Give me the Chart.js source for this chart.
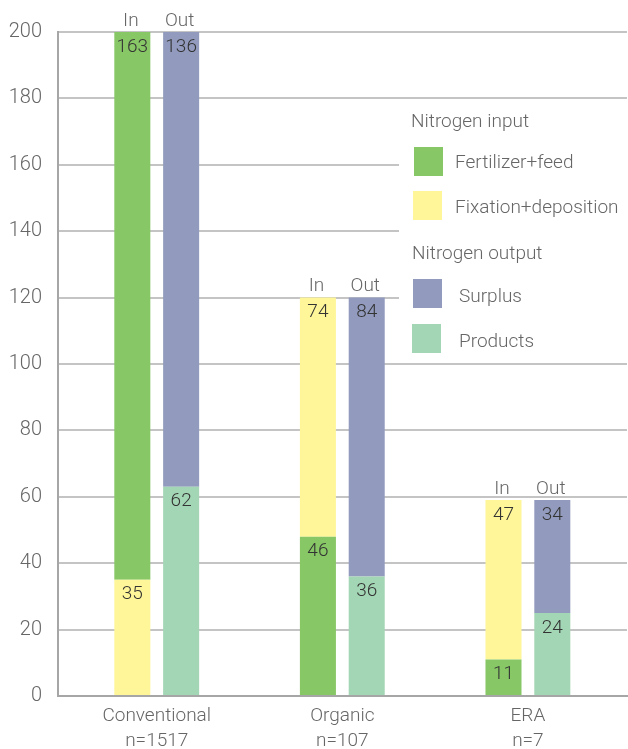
<!DOCTYPE html>
<html>
<head>
<meta charset="utf-8">
<title>Nitrogen input and output</title>
<script src="https://cdn.jsdelivr.net/npm/chart.js@4.4.1/dist/chart.umd.min.js"></script>
<style>
    body { margin: 0; background: #fff; }
    canvas { display: block; }
</style>
</head>
<body>
<canvas id="GraficoNitrogenio" width="628" height="749"></canvas>
<script>
/* Data */
var systems = ['Conventional', 'Organic', 'ERA'];
var sampleSizes = ['n=1517', 'n=107', 'n=7'];

// bar heights as drawn
var fertilizerFeed = [165, 48, 11];
var fixationDeposition = [35, 72, 48];
var surplus = [137, 84, 34];
var products = [63, 36, 25];

// numbers printed on the bars
var fertilizerFeedLabels = [163, 46, 11];
var fixationDepositionLabels = [35, 74, 47];
var surplusLabels = [136, 84, 34];
var productsLabels = [62, 36, 24];

// conventional farms: fertilizer segment sits above fixation
var fertilizerOnTop = [true, false, false];

var green = '#87c766';
var yellow = '#fff699';
var blueGrey = '#929bbd';
var mint = '#a3d6b4';
var textGrey = '#666666';
var fontFamily = 'Roboto, "Liberation Sans", sans-serif';

function Pontos(valores, manter) {
    return valores.map(function (v, i) {
        return { x: i, y: manter(i) ? v : null };
    });
}

/* Labels on the bars + In/Out above each stack */
var rotulosBarras = {
    id: 'rotulosBarras',
    afterDatasetsDraw: function (chart) {
        var ctx = chart.ctx;
        var topos = {};
        ctx.save();
        ctx.font = '300 19px ' + fontFamily;
        ctx.textAlign = 'center';
        ctx.textBaseline = 'alphabetic';
        chart.data.datasets.forEach(function (ds, d) {
            var meta = chart.getDatasetMeta(d);
            meta.data.forEach(function (bar, j) {
                if (ds.data[j].y == null) return;
                ctx.fillStyle = '#333333';
                ctx.fillText(ds.printed[j], bar.x, bar.y + 19.5);
                var chave = ds.stack + j;
                if (!topos[chave] || bar.y < topos[chave].y) {
                    topos[chave] = { x: bar.x, y: bar.y, nome: ds.stack };
                }
            });
        });
        ctx.fillStyle = textGrey;
        Object.keys(topos).forEach(function (k) {
            var t = topos[k];
            ctx.fillText(t.nome, t.x - 1.5, t.y - 6.5);
        });
        ctx.restore();
    }
};

/* Legend box drawn over the grid */
var legendaNitrogenio = {
    id: 'legendaNitrogenio',
    afterDraw: function (chart) {
        var ctx = chart.ctx;
        ctx.save();
        ctx.fillStyle = '#ffffff';
        ctx.fillRect(399, 104, 229, 255);
        ctx.font = '300 19px ' + fontFamily;
        ctx.textAlign = 'left';
        ctx.textBaseline = 'alphabetic';
        ctx.fillStyle = textGrey;
        ctx.fillText('Nitrogen input', 411, 127);
        ctx.fillText('Nitrogen output', 412, 259);

        var itens = [
            { cor: green, x: 414, y: 147, texto: 'Fertilizer+feed', tx: 455, ty: 167.5 },
            { cor: yellow, x: 413, y: 191, texto: 'Fixation+deposition', tx: 455, ty: 213 },
            { cor: blueGrey, x: 413, y: 279, texto: 'Surplus', tx: 459, ty: 302 },
            { cor: mint, x: 412, y: 324, texto: 'Products', tx: 459, ty: 347 }
        ];
        itens.forEach(function (it) {
            ctx.fillStyle = it.cor;
            ctx.fillRect(it.x, it.y, 29, 29);
            ctx.fillStyle = textGrey;
            ctx.fillText(it.texto, it.tx, it.ty);
        });
        ctx.restore();
    }
};

var ctx = document.getElementById('GraficoNitrogenio').getContext('2d');

var grafico = new Chart(ctx, {
    type: 'bar',
    data: {
        datasets: [{
            label: 'Fertilizer+feed',
            stack: 'In',
            data: Pontos(fertilizerFeed, function (i) { return !fertilizerOnTop[i]; }),
            printed: fertilizerFeedLabels,
            backgroundColor: green
        }, {
            label: 'Fixation+deposition',
            stack: 'In',
            data: Pontos(fixationDeposition, function () { return true; }),
            printed: fixationDepositionLabels,
            backgroundColor: yellow
        }, {
            label: 'Fertilizer+feed',
            stack: 'In',
            data: Pontos(fertilizerFeed, function (i) { return fertilizerOnTop[i]; }),
            printed: fertilizerFeedLabels,
            backgroundColor: green
        }, {
            label: 'Products',
            stack: 'Out',
            data: Pontos(products, function () { return true; }),
            printed: productsLabels,
            backgroundColor: mint
        }, {
            label: 'Surplus',
            stack: 'Out',
            data: Pontos(surplus, function () { return true; }),
            printed: surplusLabels,
            backgroundColor: blueGrey
        }]
    },
    options: {
        responsive: false,
        animation: false,
        categoryPercentage: 0.526,
        barPercentage: 0.738,
        layout: { padding: { top: 32, right: 1, left: 0, bottom: 0 } },
        plugins: {
            legend: { display: false },
            tooltip: { enabled: false }
        },
        scales: {
            x: {
                type: 'linear',
                offset: false,
                min: -0.532,
                max: 2.534,
                afterBuildTicks: function (eixo) {
                    eixo.ticks = systems.map(function (s, i) { return { value: i }; });
                },
                afterFit: function (eixo) { eixo.height = 53; },
                grid: { display: false, drawTicks: false, offset: false },
                border: { display: true, color: '#a6a6a6', width: 2 },
                ticks: {
                    padding: 8,
                    color: textGrey,
                    maxRotation: 0,
                    autoSkip: false,
                    font: { family: fontFamily, size: 19, weight: '300', lineHeight: 1.3 },
                    callback: function (v) {
                        var i = Math.round(v);
                        return [systems[i], sampleSizes[i]];
                    }
                }
            },
            y: {
                stacked: true,
                min: 0,
                max: 200,
                afterFit: function (eixo) { eixo.width = 58; },
                grid: { color: '#c4c4c4', lineWidth: 2, drawTicks: false },
                border: { display: true, color: '#a6a6a6', width: 2 },
                ticks: {
                    stepSize: 20,
                    padding: 16,
                    color: textGrey,
                    font: { family: fontFamily, size: 20, weight: '300' }
                }
            }
        }
    },
    plugins: [rotulosBarras, legendaNitrogenio]
});
</script>
</body>
</html>
